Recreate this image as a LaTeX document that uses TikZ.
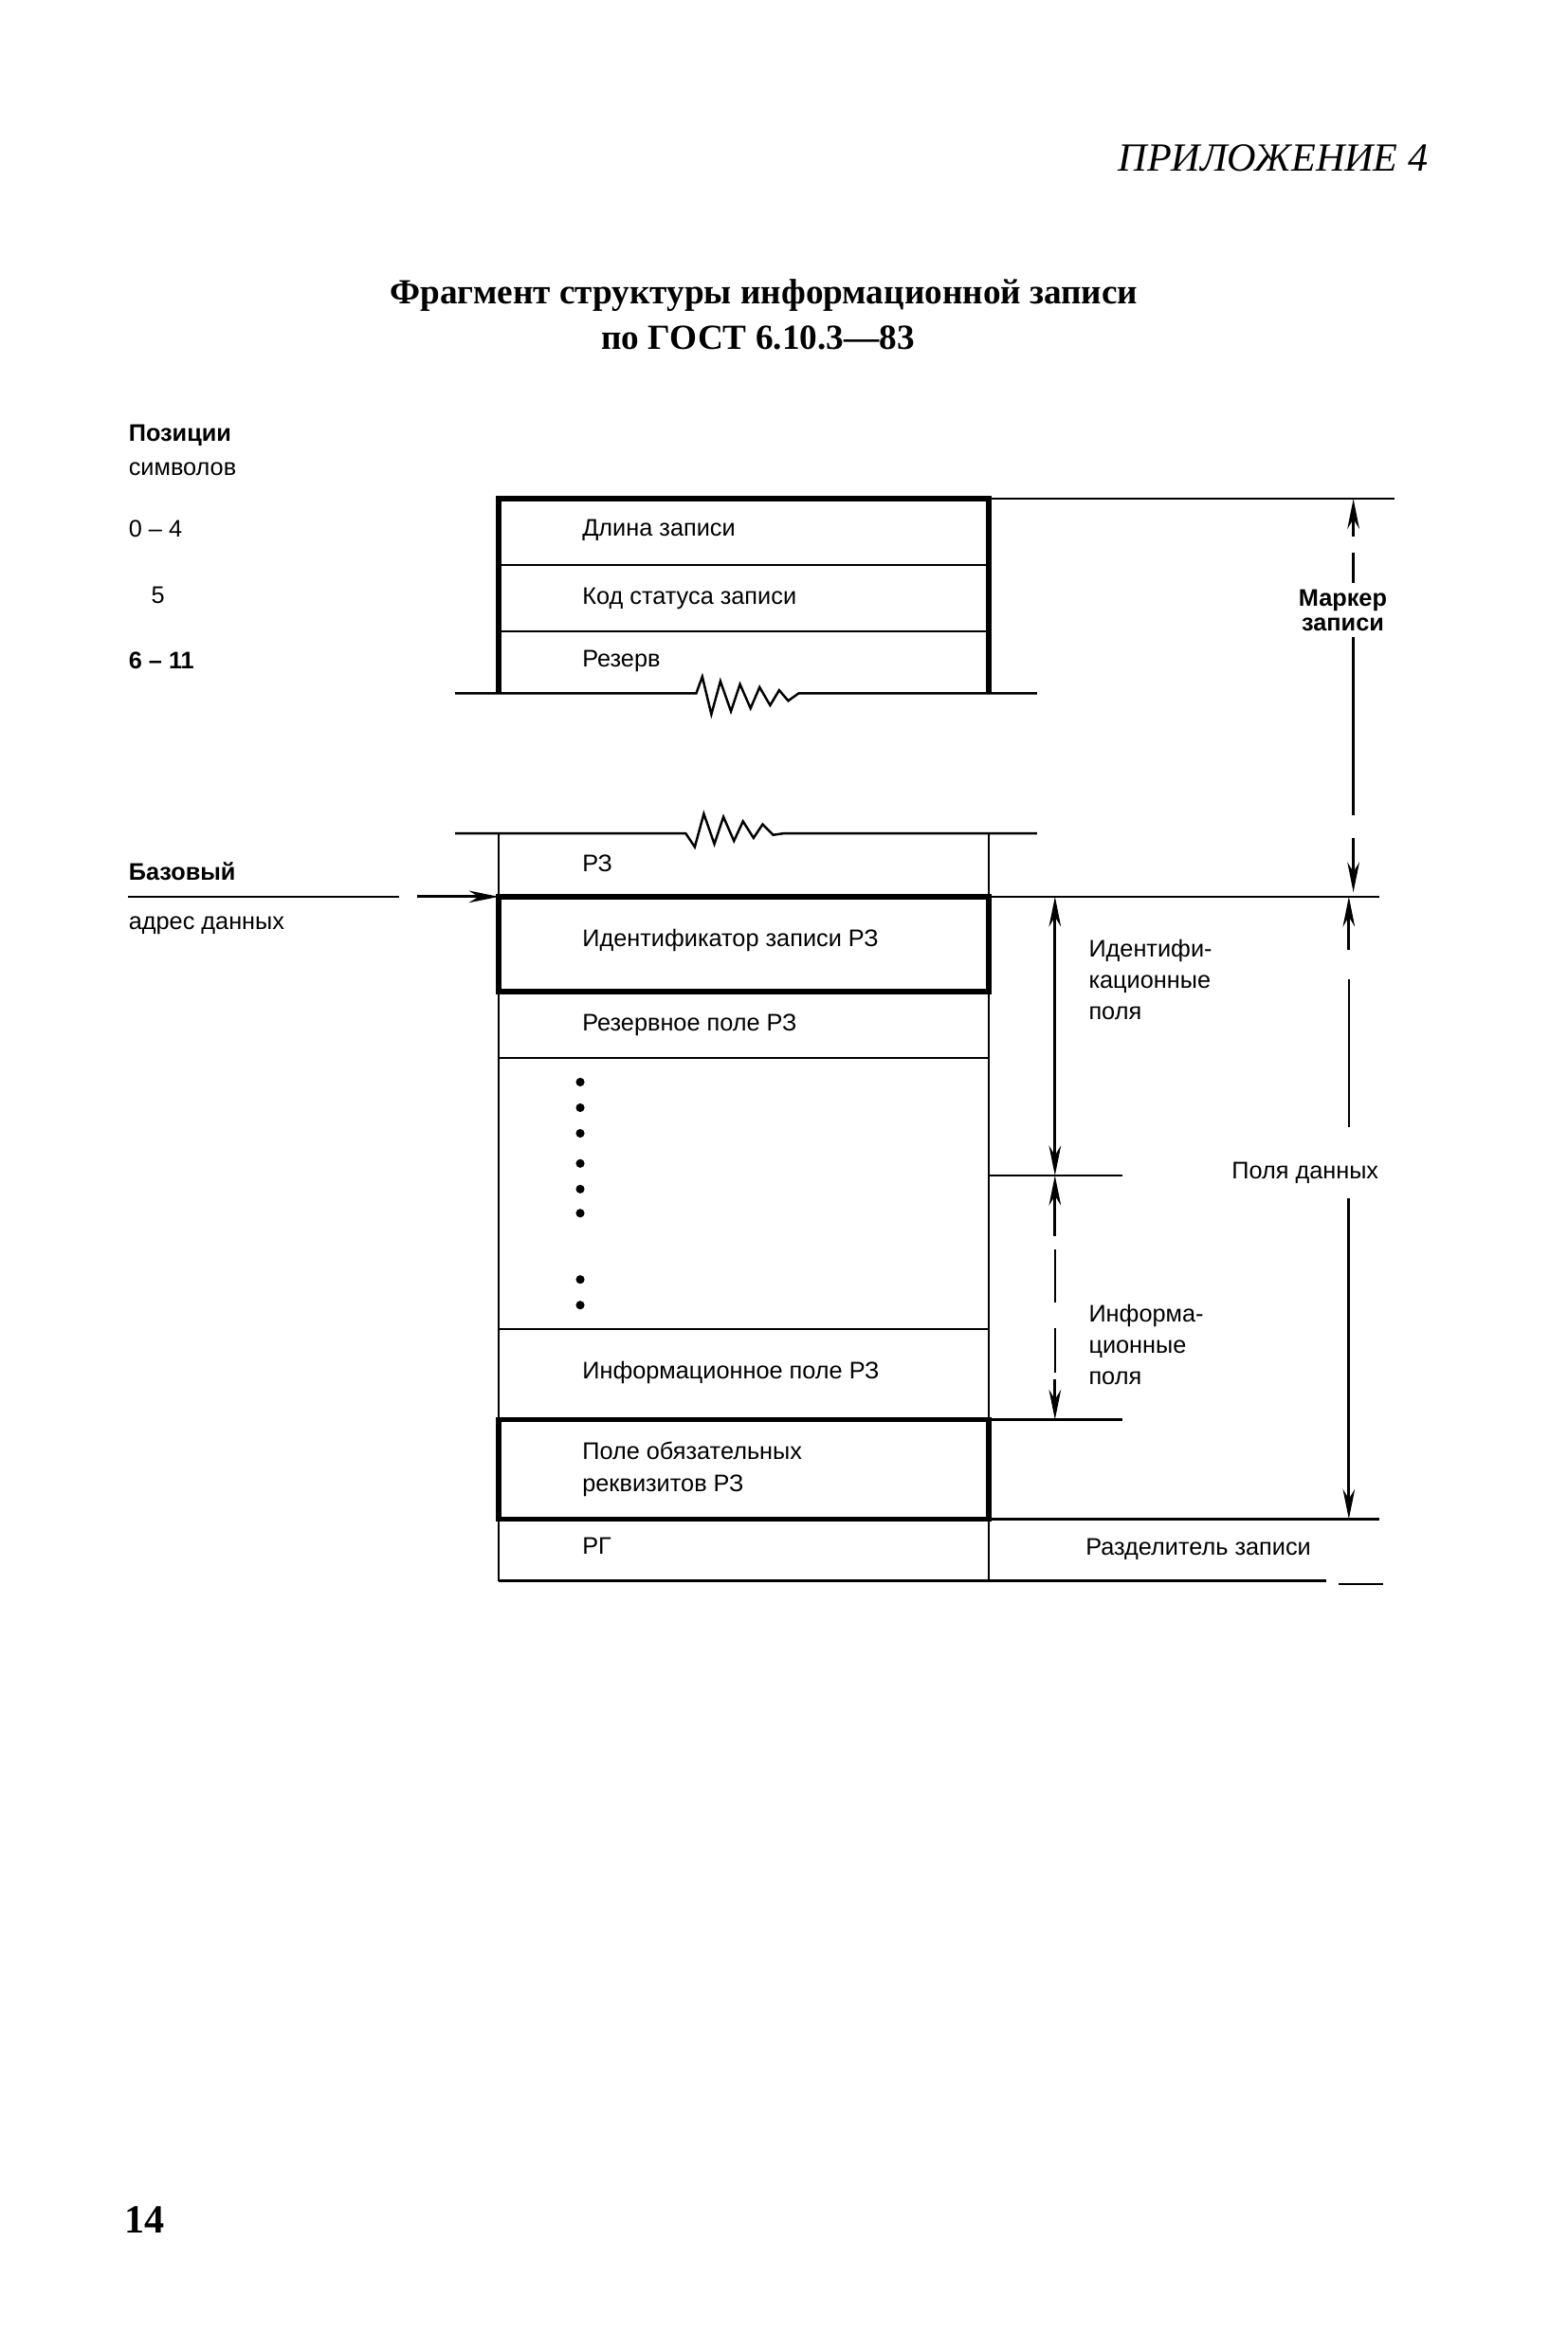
\documentclass[tikz,border=0pt]{standalone}
\usepackage{fontspec}
\setmainfont{Liberation Serif}
\setsansfont{Liberation Sans}
\usetikzlibrary{arrows.meta}

\begin{document}
\begin{tikzpicture}[x=0.0159cm,y=-0.0159cm,
    lbl/.style={font=\sffamily\fontsize{7.2}{9}\selectfont,inner sep=0pt,anchor=west},
    rowline/.style={line width=0.7pt},
    boldline/.style={line width=1.6pt},
    dimarrow/.style={-{Stealth[length=9pt,width=3.6pt]},line width=0.8pt}]
    \useasboundingbox (0,0) rectangle (1040,1560);

    % headings
    \node[font=\itshape\fontsize{12}{14}\selectfont,anchor=east,inner sep=0pt] (appx) at (948,105) {ПРИЛОЖЕНИЕ 4};
    \node[font=\bfseries\fontsize{10.6}{13}\selectfont,inner sep=0pt] (title1) at (507,196) {Фрагмент структуры информационной записи};
    \node[font=\bfseries\fontsize{10.6}{13}\selectfont,inner sep=0pt] (title2) at (503,224) {по ГОСТ 6.10.3—83};

    % left column
    \node[lbl] (pos1) at (85,289) {\bfseries Позиции};
    \node[lbl] (pos2) at (85,311) {символов};
    \node[lbl] (p04) at (85,351) {0 – 4};
    \node[lbl] (p5) at (100,395) {5};
    \node[lbl] (p611) at (85,438) {\bfseries 6 – 11};
    \node[lbl] (base1) at (85,578) {\bfseries Базовый};
    \node[lbl] (base2) at (85,614) {адрес данных};

    % record marker part
    \draw[boldline] (331,460) -- (331,331) -- (656,331) -- (656,460);
    \draw[rowline] (331,375) -- (656,375);
    \draw[rowline] (331,419) -- (656,419);
    \draw[rowline] (656,331) -- (925,331);
    \draw[rowline] (302,460) -- (462,460) -- (466,449) -- (472,474) -- (478,452) -- (485,472) -- (491,454)
        -- (498,470) -- (504,456) -- (511,468) -- (517,458) -- (523,465) -- (530,460) -- (688,460);
    \node[lbl] (len) at (386,352) {Длина записи};
    \node[lbl] (stat) at (386,397) {Код статуса записи};
    \node[lbl] (resv) at (386,439) {Резерв};

    % directory / data part
    \draw[rowline] (302,553) -- (455,553) -- (461,562) -- (467,540) -- (474,560) -- (480,542) -- (487,558)
        -- (493,545) -- (500,556) -- (506,547) -- (513,554) -- (520,553) -- (688,553);
    \draw[rowline] (331,553) -- (331,1049);
    \draw[rowline] (656,553) -- (656,1049);
    \draw[boldline] (331,595) -- (331,658) -- (656,658) -- (656,595) -- cycle;
    \draw[rowline] (656,595) -- (915,595);
    \draw[rowline] (331,702) -- (656,702);
    \draw[rowline] (331,882) -- (656,882);
    \draw[boldline] (331,942) rectangle (656,1008);
    \draw[rowline] (656,780) -- (745,780);
    \draw[rowline] (656,942) -- (745,942);
    \draw[rowline] (656,1008) -- (915,1008);
    \draw[rowline] (331,1049) -- (880,1049);
    \draw[rowline] (888,1051) -- (918,1051);
    \foreach \y in {718,735,752,772,789,805,849,866}
        \fill (385,\y) circle (1.3pt);

    \node[lbl] (rz) at (386,573) {РЗ};
    \node[lbl] (ident) at (386,624) {Идентификатор записи РЗ};
    \node[lbl] (rfield) at (386,680) {Резервное поле РЗ};
    \node[lbl] (ifield) at (386,911) {Информационное поле РЗ};
    \node[lbl,align=left,font=\sffamily\fontsize{7.2}{9.6}\selectfont] (mand) at (386,975) {Поле обязательных\\реквизитов РЗ};
    \node[lbl] (rg) at (386,1026) {РГ};
    \node[lbl] (sep) at (720,1028) {Разделитель записи};

    % base address arrow
    \coordinate (ba0) at (85,595);
    \coordinate (ba1) at (265,595);
    \coordinate (ba2) at (277,595);
    \coordinate (ba3) at (331,595);
    \draw[rowline] (ba0) -- (ba1);
    \draw[dimarrow] (ba2) -- (ba3);

    % dimension lines
    \coordinate (mk0) at (898,331);
    \coordinate (mk1) at (898,356);
    \coordinate (mk2) at (898,592);
    \coordinate (mk3) at (898,556);
    \draw[dimarrow] (mk1) -- (mk0);
    \draw[rowline] (898,367) -- (898,387);
    \draw[rowline] (898,423) -- (898,541);
    \draw[dimarrow] (mk3) -- (mk2);
    \node[font=\sffamily\bfseries\fontsize{7.2}{7.5}\selectfont,align=center,inner sep=0pt] (marker) at (891,405) {Маркер\\записи};

    \coordinate (df0) at (895,595);
    \coordinate (df1) at (895,630);
    \coordinate (df2) at (895,1008);
    \coordinate (df3) at (895,795);
    \draw[dimarrow] (df1) -- (df0);
    \draw[rowline] (895,650) -- (895,748);
    \draw[dimarrow] (df3) -- (df2);
    \node[font=\sffamily\fontsize{7.2}{9}\selectfont,inner sep=0pt] (data) at (866,778) {Поля данных};

    \coordinate (id0) at (700,595);
    \coordinate (id1) at (700,780);
    \coordinate (id2) at (700,688);
    \draw[dimarrow] (id2) -- (id0);
    \draw[dimarrow] (id2) -- (id1);
    \node[lbl,align=left,font=\sffamily\fontsize{7.2}{9.4}\selectfont] (identf) at (722,650) {Идентифи-\\кационные\\поля};

    \coordinate (if0) at (700,780);
    \coordinate (if1) at (700,820);
    \coordinate (if2) at (700,942);
    \coordinate (if3) at (700,915);
    \draw[dimarrow] (if1) -- (if0);
    \draw[rowline] (700,829) -- (700,864);
    \draw[rowline] (700,881) -- (700,911);
    \draw[dimarrow] (if3) -- (if2);
    \node[lbl,align=left,font=\sffamily\fontsize{7.2}{9.4}\selectfont] (infof) at (722,892) {Информа-\\ционные\\поля};

    \node[font=\bfseries\fontsize{12}{14}\selectfont,anchor=west,inner sep=0pt] (pagenum) at (82,1473) {14};
\end{tikzpicture}
\end{document}
